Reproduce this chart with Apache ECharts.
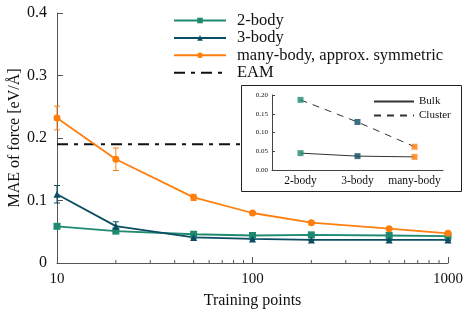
<!DOCTYPE html>
<html><head><meta charset="utf-8">
<script src="https://cdn.jsdelivr.net/npm/echarts@6/dist/echarts.min.js"></script>
<style>html,body{margin:0;padding:0;background:#fff}#c{width:471px;height:314px}</style>
</head><body><div id="c"></div>
<script>
// ---- data ----
const trainPts = [10, 20, 50, 100, 200, 500, 1000];
const twoBody = [0.0587, 0.051, 0.046, 0.044, 0.045, 0.044, 0.043];
const threeBody = [0.110, 0.059, 0.041, 0.0385, 0.037, 0.037, 0.037];
const manyBody = [0.232, 0.166, 0.105, 0.080, 0.0645, 0.055, 0.0475];
const manyBodyErr = [0.019, 0.018, 0.005, 0.002, 0.002, 0.002, 0.002];
const threeBodyErr = [0.014, 0.007, 0.002, 0.001, 0.001, 0.001, 0.001];
const eamValue = 0.19;
const minorTicks = [20, 30, 40, 50, 60, 70, 80, 90, 200, 300, 400, 500, 600, 700, 800, 900];
const insetCats = ['2-body', '3-body', 'many-body'];
const insetBulk = [0.045, 0.037, 0.035];
const insetCluster = [0.187, 0.128, 0.062];

const cGreen = '#1f8a70', cDark = '#0b4d62', cOrange = '#ff7f0e';
const FONT = '"Liberation Serif", "DejaVu Serif", serif';

function errSeries(vals, errs, color) {
  return {
    type: 'custom', xAxisIndex: 0, yAxisIndex: 0, silent: true, z: 3,
    data: trainPts.map((x, i) => [x, vals[i] - errs[i], vals[i] + errs[i]]),
    renderItem: function (params, api) {
      const lo = api.coord([api.value(0), api.value(1)]);
      const hi = api.coord([api.value(0), api.value(2)]);
      const w = 3;
      return { type: 'group', children: [
        { type: 'line', shape: { x1: lo[0], y1: lo[1], x2: hi[0], y2: hi[1] }, style: { stroke: color, lineWidth: 1 } },
        { type: 'line', shape: { x1: lo[0] - w, y1: lo[1], x2: lo[0] + w, y2: lo[1] }, style: { stroke: color, lineWidth: 1 } },
        { type: 'line', shape: { x1: hi[0] - w, y1: hi[1], x2: hi[0] + w, y2: hi[1] }, style: { stroke: color, lineWidth: 1 } }
      ]};
    }
  };
}

const chart = echarts.init(document.getElementById('c'), null, { renderer: 'canvas' });
chart.setOption({
  animation: false,
  backgroundColor: '#fff',
  textStyle: { fontFamily: FONT },
  grid: [
    { left: 57, right: 23, top: 13, bottom: 51, containLabel: false, outerBoundsMode: 'none' },
    { left: 272, top: 95, width: 171, height: 75, containLabel: false, outerBoundsMode: 'none' }
  ],
  xAxis: [
    { type: 'log', logBase: 10, min: 10, max: 1000, gridIndex: 0,
      name: 'Training points', nameLocation: 'middle', nameGap: 30,
      nameTextStyle: { fontFamily: FONT, fontSize: 16, color: '#111' },
      axisLine: { lineStyle: { color: '#555', width: 1 } },
      axisTick: { inside: true, length: 6, lineStyle: { color: '#555' } },
      axisLabel: { fontFamily: FONT, fontSize: 15, color: '#111', margin: 9, formatter: v => String(Math.round(v)) },
      splitLine: { show: false }, minorTick: { show: false } },
    { type: 'category', data: insetCats, gridIndex: 1, boundaryGap: true, z: 20,
      axisLine: { lineStyle: { color: '#444', width: 1 } },
      axisTick: { inside: true, length: 3, alignWithLabel: false, lineStyle: { color: '#444' } },
      axisLabel: { fontFamily: FONT, fontSize: 11.5, color: '#111', margin: 5, interval: 0 } }
  ],
  yAxis: [
    { type: 'value', min: 0, max: 0.4, interval: 0.1, gridIndex: 0,
      name: 'MAE of force [eV/Å]', nameLocation: 'middle', nameGap: 34, nameMoveOverlap: false,
      nameTextStyle: { fontFamily: FONT, fontSize: 16, color: '#111' },
      axisLine: { show: true, lineStyle: { color: '#555', width: 1 } },
      axisTick: { show: true, inside: true, length: 6, lineStyle: { color: '#555' } },
      axisLabel: { fontFamily: FONT, fontSize: 16, color: '#111', margin: 10,
        formatter: v => (v === 0 ? '0' : String(+v.toFixed(1))) },
      splitLine: { show: false } },
    { type: 'value', min: 0, max: 0.2, interval: 0.05, gridIndex: 1, z: 20,
      axisLine: { show: true, lineStyle: { color: '#444', width: 1 } },
      axisTick: { show: true, inside: true, length: 3, lineStyle: { color: '#444' } },
      axisLabel: { fontFamily: FONT, fontSize: 7, color: '#111', margin: 4,
        formatter: v => v.toFixed(2) },
      splitLine: { show: false } }
  ],
  legend: [
    { left: 168, top: 7, orient: 'vertical', itemWidth: 52, itemHeight: 7, itemGap: 0.4,
      data: ['2-body', '3-body', 'many-body, approx. symmetric',
             { name: 'EAM', itemStyle: { opacity: 0 } }],
      textStyle: { fontFamily: FONT, fontSize: 16.5, lineHeight: 16.5, color: '#111', padding: [0, 0, 0, 6] } },
    { left: 368, top: 91, orient: 'vertical', itemWidth: 40, itemHeight: 6, itemGap: 3, z: 25,
      data: [{ name: 'Bulk', itemStyle: { opacity: 0 } }, { name: 'Cluster', itemStyle: { opacity: 0 } }],
      textStyle: { fontFamily: FONT, fontSize: 11, lineHeight: 11, color: '#111', padding: [0, 0, 0, 0] } }
  ],
  graphic: [
    { type: 'rect', left: 241, top: 85, shape: { width: 220, height: 106 }, z: 10,
      style: { fill: '#fff', stroke: '#222', lineWidth: 1 } }
  ],
  series: [
    { name: 'EAM', type: 'line', xAxisIndex: 0, yAxisIndex: 0, symbol: 'none', z: 2,
      data: [[10, eamValue], [1000, eamValue]],
      lineStyle: { color: '#111', width: 2, type: [11, 6, 4, 6] }, itemStyle: { color: '#111' } },
    { name: '2-body', type: 'line', xAxisIndex: 0, yAxisIndex: 0, symbol: 'rect', symbolSize: 7, z: 4,
      data: trainPts.map((x, i) => [x, twoBody[i]]),
      lineStyle: { color: cGreen, width: 1.8 }, itemStyle: { color: cGreen } },
    { name: '3-body', type: 'line', xAxisIndex: 0, yAxisIndex: 0, symbol: 'triangle', symbolSize: 7, z: 4,
      data: trainPts.map((x, i) => [x, threeBody[i]]),
      lineStyle: { color: cDark, width: 1.8 }, itemStyle: { color: cDark } },
    { name: 'many-body, approx. symmetric', type: 'line', xAxisIndex: 0, yAxisIndex: 0, symbol: 'circle', symbolSize: 7, z: 4,
      data: trainPts.map((x, i) => [x, manyBody[i]]),
      lineStyle: { color: cOrange, width: 1.8 }, itemStyle: { color: cOrange } },
    errSeries(manyBody, manyBodyErr, cOrange),
    errSeries(threeBody, threeBodyErr, cDark),
    { type: 'custom', xAxisIndex: 0, yAxisIndex: 0, silent: true, z: 3,
      data: minorTicks.map(x => [x, 0]),
      renderItem: function (params, api) {
        const p = api.coord([api.value(0), 0]);
        return { type: 'line', shape: { x1: p[0], y1: p[1], x2: p[0], y2: p[1] - 3 }, style: { stroke: '#555', lineWidth: 1 } };
      } },
    { name: 'Bulk', type: 'line', xAxisIndex: 1, yAxisIndex: 1, symbol: 'none', z: 20,
      data: insetBulk, lineStyle: { color: '#333', width: 1 }, itemStyle: { color: '#333' } },
    { name: 'Cluster', type: 'line', xAxisIndex: 1, yAxisIndex: 1, symbol: 'none', z: 20,
      data: insetCluster, lineStyle: { color: '#333', width: 1, type: [7, 6] }, itemStyle: { color: '#333' } },
    { type: 'scatter', xAxisIndex: 1, yAxisIndex: 1, symbol: 'rect', symbolSize: 6, z: 21,
      data: insetCats.map((c, i) => ({ value: [c, insetBulk[i]], itemStyle: { color: [cGreen, cDark, cOrange][i] } })) },
    { type: 'scatter', xAxisIndex: 1, yAxisIndex: 1, symbol: 'rect', symbolSize: 6, z: 21,
      data: insetCats.map((c, i) => ({ value: [c, insetCluster[i]], itemStyle: { color: [cGreen, cDark, cOrange][i] } })) }
  ]
});
</script></body></html>
